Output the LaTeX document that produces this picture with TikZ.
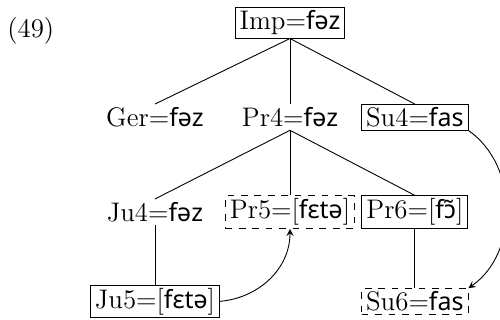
\documentclass[12pt,tikz,border=0pt]{standalone}
\usepackage{fontspec}
\newfontfamily\ipafont{Noto Sans}[Scale=0.93]
\newcommand{\ph}[1]{{\ipafont #1}}
\begin{document}
\begin{tikzpicture}[>=stealth]
    \tikzstyle{n}=[inner xsep=2pt, inner ysep=1.3pt]
    \tikzstyle{b}=[n, draw]
    \tikzstyle{d}=[n, draw, dashed]
    \useasboundingbox (-4.553,0.361) rectangle (3.297,-4.663);
    \node (ex) at (-4.07,-0.12) {(49)};
    % root
    \node[b] (imp) at (0,0) {Imp=\ph{fəz}};
    % second row
    \node[n] (ger) at (-2.12,-1.48) {Ger=\ph{fəz}};
    \node[n] (pr4) at (0,-1.48) {Pr4=\ph{fəz}};
    \node[b] (su4) at (1.96,-1.48) {Su4=\ph{fas}};
    \draw (imp.south)--(ger.north); \draw (imp.south)--(pr4.north); \draw (imp.south)--(su4.north);
    % third row
    \node[n] (ju4) at (-2.12,-2.97) {Ju4=\ph{fəz}};
    \node[d] (pr5) at (0,-2.97) {Pr5=[\ph{fɛtə}]};
    \node[b] (pr6) at (1.96,-2.97) {Pr6=[\ph{fɔ̃}]};
    \draw (pr4.south)--(ju4.north); \draw (pr4.south)--(pr5.north); \draw (pr4.south)--(pr6.north);
    % fourth row
    \node[b] (ju5) at (-2.12,-4.37) {Ju5=[\ph{fɛtə}]};
    \node[d] (su6) at (1.96,-4.37) {Su6=\ph{fas}};
    \draw (ju4.south)--(ju5.north); \draw (pr6.south)--(su6.north);
    % arrows
    \draw[->] (ju5.east) to[out=5, in=-90] (pr5.south);
    \draw[->] (su4.south east) to[bend left=55] (su6.north east);
\end{tikzpicture}
\end{document}
